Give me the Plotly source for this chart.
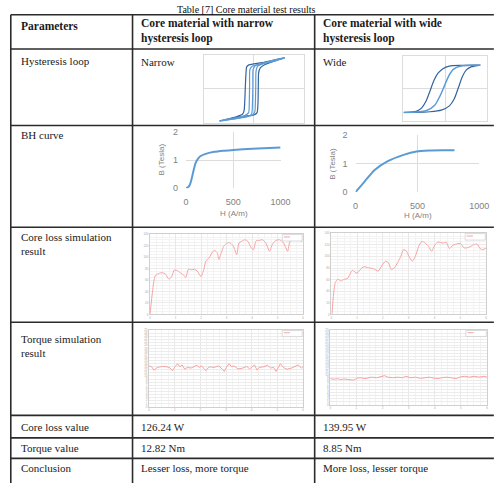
import plotly.graph_objects as go

W, H = 499, 483

# ---------------- data ----------------
title_text = "Table [7] Core material test results"
header_cells = ["Parameters", "Core material with narrow<br>hysteresis loop", "Core material with wide<br>hysteresis loop"]
row_labels = ["Hysteresis loop", "BH curve", "Core loss simulation<br>result", "Torque simulation<br>result",
              "Core loss value", "Torque value", "Conclusion"]
narrow_cells = ["Narrow", "126.24 W", "12.82 Nm", "Lesser loss, more torque"]
wide_cells = ["Wide", "139.95 W", "8.85 Nm", "More loss, lesser torque"]

# narrow hysteresis loop (normalised H, B)
nar_outer_h = [0.613, 0.387, 0.194, 0.0, -0.097, -0.142, -0.155, -0.168, -0.181, -0.194, -0.226, -0.323, -0.484, -0.677,
               -0.452, -0.194, 0.0, 0.065, 0.084, 0.090, 0.097, 0.129, 0.226, 0.419, 0.613]
nar_outer_b = [0.912, 0.843, 0.784, 0.735, 0.706, 0.647, 0.471, 0.078, -0.412, -0.657, -0.755, -0.814, -0.882, -0.951,
               -0.873, -0.814, -0.775, -0.706, -0.412, 0.078, 0.471, 0.618, 0.716, 0.824, 0.912]
nar_inner_h = [0.613, 0.323, 0.065, -0.032, -0.077, -0.084, -0.090, -0.103, -0.194, -0.677,
               -0.258, -0.032, 0.019, 0.032, 0.039, 0.045, 0.077, 0.323, 0.613]
nar_inner_b = [0.912, 0.784, 0.706, 0.667, 0.569, 0.078, -0.412, -0.706, -0.804, -0.951,
               -0.853, -0.784, -0.686, -0.412, 0.078, 0.520, 0.667, 0.794, 0.912]
nar_mid_h = [-0.677, -0.129, -0.045, -0.026, -0.019, -0.013, 0.032, 0.290, 0.613]
nar_mid_b = [-0.951, -0.824, -0.755, -0.412, 0.078, 0.569, 0.686, 0.804, 0.912]

# wide hysteresis loop
wid_outer_h = [0.840, 0.412, 0.101, -0.054, -0.171, -0.272, -0.366, -0.459, -0.560, -0.677, -0.833, -0.988,
               -0.677, -0.366, -0.093, 0.101, 0.218, 0.319, 0.412, 0.506, 0.630, 0.840]
wid_outer_b = [0.717, 0.707, 0.687, 0.606, 0.465, 0.232, -0.101, -0.404, -0.606, -0.707, -0.737, -0.747,
               -0.747, -0.727, -0.677, -0.545, -0.323, 0.030, 0.364, 0.566, 0.667, 0.717]
wid_mid_h = [-0.988, -0.677, -0.444, -0.249, -0.117, -0.016, 0.086, 0.195, 0.374, 0.840]
wid_mid_b = [-0.747, -0.737, -0.687, -0.525, -0.222, 0.081, 0.384, 0.586, 0.687, 0.717]

# BH curves
bh_nar_h = [0, 20, 40, 60, 80, 100, 125, 150, 200, 300, 400, 500, 700, 1000]
bh_nar_b = [0, 0.03, 0.12, 0.35, 0.65, 0.9, 1.05, 1.14, 1.22, 1.3, 1.34, 1.37, 1.41, 1.46]
bh_wid_h = [0, 73, 152, 257, 388, 493, 598, 700, 800]
bh_wid_b = [0, 0.37, 0.77, 1.08, 1.31, 1.43, 1.46, 1.47, 1.47]

# core loss simulations
cl_nar_t = [0, 0.10, 0.20, 0.36, 0.48, 0.61, 0.74, 0.86, 0.95, 1.05, 1.18, 1.31, 1.40, 1.50, 1.62, 1.75, 1.85, 2.00,
            2.11, 2.19, 2.32, 2.45, 2.54, 2.64, 2.70, 2.79, 2.89, 3.02, 3.15, 3.27, 3.40, 3.49, 3.59, 3.72, 3.84,
            3.97, 4.06, 4.16, 4.29, 4.41, 4.54, 4.69, 4.79, 4.92, 5.07, 5.24, 5.40, 5.49, 5.68, 5.81, 5.96]
cl_nar_v = [1.1, 41.3, 67.1, 71.7, 72.9, 70.0, 61.4, 67.1, 77.5, 76.9, 72.9, 68.9, 64.3, 78.6, 78.0, 78.6, 75.7, 66.0,
            78.6, 93.0, 98.7, 109.0, 111.3, 107.3, 95.8, 107.3, 118.8, 124.5, 124.5, 118.8, 104.4, 124.5, 127.4,
            130.3, 127.4, 115.9, 113.0, 128.5, 129.1, 130.3, 124.5, 110.2, 121.6, 128.5, 130.3, 124.5, 110.2, 127.4,
            130.3, 130.3, 127.4]
cl_wid_t = [0.03, 0.09, 0.16, 0.25, 0.38, 0.50, 0.63, 0.82, 1.00, 1.13, 1.26, 1.44, 1.63, 1.82, 1.95, 2.10, 2.22,
            2.32, 2.45, 2.57, 2.70, 2.80, 2.92, 3.01, 3.14, 3.26, 3.39, 3.51, 3.64, 3.77, 3.89, 4.02, 4.14, 4.33,
            4.46, 4.58, 4.71, 4.90, 5.02, 5.15, 5.33, 5.52, 5.65, 5.77, 5.87, 6.0]
cl_wid_v = [1.1, 35.1, 55.0, 60.6, 57.8, 60.6, 61.8, 76.0, 70.9, 77.7, 82.2, 80.5, 78.8, 74.8, 83.3, 91.8, 89.0,
            77.7, 80.5, 89.0, 100.3, 111.7, 108.8, 100.3, 91.8, 100.3, 117.3, 125.8, 123.0, 117.3, 108.8, 120.2,
            124.7, 123.0, 124.1, 113.4, 119.0, 121.9, 121.9, 114.5, 115.6, 120.2, 121.3, 113.4, 111.7, 114.5]

# torque simulations
tq_nar_t = [0, 0.10, 0.19, 0.32, 0.51, 0.69, 0.82, 0.91, 1.01, 1.11, 1.20, 1.29, 1.39, 1.49, 1.64, 1.77, 1.86, 1.96,
            2.05, 2.21, 2.34, 2.53, 2.72, 2.88, 2.93, 3.03, 3.12, 3.22, 3.31, 3.47, 3.66, 3.81, 3.92, 4.02, 4.11,
            4.21, 4.29, 4.48, 4.61, 4.74, 4.86, 4.95, 5.12, 5.24, 5.37, 5.56, 5.71, 5.81, 5.94, 6.0]
tq_nar_v = [13.3, 13.0, 11.9, 12.8, 13.1, 13.0, 12.6, 11.7, 13.0, 14.0, 13.0, 13.6, 12.2, 12.8, 12.6, 13.1, 13.5,
            12.8, 13.3, 11.7, 13.0, 12.8, 13.3, 12.0, 11.5, 13.0, 14.0, 13.0, 13.3, 12.3, 12.6, 13.1, 12.3, 13.0,
            13.6, 11.9, 12.8, 13.0, 13.5, 12.6, 12.8, 11.5, 14.0, 12.8, 12.2, 12.6, 13.1, 13.6, 12.6, 13.0]
tq_wid_t = [0, 0.15, 0.27, 0.40, 0.52, 0.71, 0.90, 1.02, 1.15, 1.33, 1.46, 1.58, 1.77, 1.95, 2.08, 2.20, 2.39, 2.58,
            2.76, 2.89, 3.07, 3.26, 3.45, 3.63, 3.80, 3.95, 4.13, 4.26, 4.45, 4.63, 4.82, 4.94, 5.13, 5.32, 5.50,
            5.69, 5.88, 6.0]
tq_wid_v = [8.7, 8.5, 8.7, 8.4, 8.6, 8.4, 8.2, 8.9, 9.0, 8.7, 8.9, 9.2, 9.0, 9.5, 9.7, 9.2, 9.0, 9.2, 9.0, 9.5, 9.0,
            9.2, 8.8, 9.0, 9.2, 8.9, 8.7, 9.0, 9.2, 9.0, 8.7, 9.2, 9.5, 9.2, 9.5, 9.2, 9.5, 9.2]

# ---------------- helpers ----------------
def px(x):
    return x / W

def py(y):
    return 1 - y / H

fig = go.Figure()
SERIF = "Liberation Serif"
BLUE_D = "#34649c"
BLUE_L = "#5b9bd5"
RED = "#f5a3a3"

def add(x, y, n, color, width=1.2, shape="spline"):
    fig.add_trace(go.Scatter(x=x, y=y, mode="lines", xaxis="x" + ("" if n == 1 else str(n)),
                             yaxis="y" + ("" if n == 1 else str(n)), showlegend=False, hoverinfo="skip",
                             line=dict(color=color, width=width, shape=shape, smoothing=0.6)))

# hysteresis
add(nar_outer_h, nar_outer_b, 1, BLUE_D)
add(nar_mid_h, nar_mid_b, 1, BLUE_L)
add(nar_inner_h, nar_inner_b, 1, BLUE_L)
add(wid_outer_h, wid_outer_b, 2, BLUE_D)
add(wid_mid_h, wid_mid_b, 2, BLUE_L, 1.5)
# BH
add(bh_nar_h, bh_nar_b, 3, BLUE_L, 2)
add(bh_wid_h, bh_wid_b, 4, BLUE_L, 2)
# simulations
add(cl_nar_t, cl_nar_v, 5, RED, 1, "spline")
add(cl_wid_t, cl_wid_v, 6, RED, 1, "spline")
add(tq_nar_t, tq_nar_v, 7, RED, 1, "linear")
add(tq_wid_t, tq_wid_v, 8, RED, 1, "linear")

layout = dict(width=W, height=H, autosize=False, margin=dict(l=0, r=0, t=0, b=0),
              paper_bgcolor="white", plot_bgcolor="white", showlegend=False)

def dom(x0, x1, y0, y1):
    return [px(x0), px(x1)], [py(y1), py(y0)]

def set_axes(n, xd, yd, xa, ya):
    k = "" if n == 1 else str(n)
    xa.update(domain=xd, anchor="y" + k)
    ya.update(domain=yd, anchor="x" + k)
    layout["xaxis" + k] = xa
    layout["yaxis" + k] = ya

GRID = "#dcdcdc"
def hyst_axis():
    return dict(range=[-1, 1], dtick=1, showgrid=True, gridcolor=GRID, showline=True, mirror=True,
                linecolor=GRID, zeroline=False, showticklabels=False, ticks="", fixedrange=True)

for n, box in [(1, (206, 309, 51, 120)), (2, (411, 497, 52, 118))]:
    xd, yd = dom(*box)
    set_axes(n, xd, yd, hyst_axis(), hyst_axis())

TICKF = dict(family="Liberation Sans", size=9, color="#7f7f7f")
for n, box, xr in [(3, (188, 285, 130, 187), [0, 1000]), (4, (362, 489, 133, 191), [0, 1000])]:
    xd, yd = dom(*box)
    xa = dict(range=xr, tickvals=[0, 500, 1000], showgrid=True, gridcolor=GRID, zeroline=False,
              showline=False, tickfont=TICKF, ticks="", ticklabelstandoff=7, fixedrange=True)
    ya = dict(range=[0, 2], tickvals=[0, 1, 2], showgrid=True, gridcolor=GRID, zeroline=False,
              showline=False, tickfont=TICKF, ticks="", ticklabelstandoff=7, fixedrange=True)
    set_axes(n, xd, yd, xa, ya)

SMALLF = dict(family="Liberation Sans", size=3, color="#a8a8a8")
def sim_axes(yr, ydt, yminor):
    xa = dict(range=[0, 6], dtick=1, showgrid=True, gridcolor="#e8e8e8", gridwidth=0.7,
              minor=dict(dtick=0.25, showgrid=True, gridcolor="#f3f3f3", gridwidth=0.5),
              showline=True, mirror=True, linecolor="#cfcfcf", zeroline=False, tickfont=SMALLF,
              ticks="", fixedrange=True)
    ya = dict(range=yr, dtick=ydt, showgrid=True, gridcolor="#ececec", gridwidth=0.6,
              showline=True, mirror=True, linecolor="#cfcfcf", zeroline=False, tickfont=SMALLF,
              ticks="", fixedrange=True)
    if yminor:
        ya["minor"] = dict(dtick=yminor, showgrid=True, gridcolor="#f3f3f3", gridwidth=0.5)
    return xa, ya

for n, box, yr, dt, mn in [(5, (151, 308, 234, 316), [0, 140], 20, 5),
                           (6, (337, 496, 233, 316), [0, 140], 20, 5),
                           (7, (150, 308, 332, 410), [0, 25], 1, None),
                           (8, (336, 497, 332, 408), [0, 25], 1, None)]:
    xd, yd = dom(*box)
    xa, ya = sim_axes(yr, dt, mn)
    set_axes(n, xd, yd, xa, ya)

fig.update_layout(**layout)

# ---------------- table lines ----------------
LINE = dict(color="#2b2b2b", width=1.6)
shapes = []
for xv in [8, 133, 320]:
    shapes.append(dict(type="line", xref="paper", yref="paper", x0=px(xv), x1=px(xv), y0=py(10), y1=py(483 + 5),
                       line=LINE))
for yv in [10, 45, 123, 227, 324, 419, 442, 463]:
    shapes.append(dict(type="line", xref="paper", yref="paper", x0=px(8), x1=px(499 + 5), y0=py(yv), y1=py(yv),
                       line=LINE))

# legend boxes of simulation charts
for n in [5, 6, 7, 8]:
    xr = "x%d domain" % n
    yr = "y%d domain" % n
    shapes.append(dict(type="rect", xref=xr, yref=yr, x0=0.865, x1=0.995, y0=0.915, y1=0.995,
                       line=dict(color="#c4c4c4", width=0.6), fillcolor="white"))
    shapes.append(dict(type="line", xref=xr, yref=yr, x0=0.875, x1=0.915, y0=0.965, y1=0.965,
                       line=dict(color=RED, width=1)))
fig.update_layout(shapes=shapes)

# ---------------- text ----------------
ann = []
def txt(x, y, s, size=11, bold=False, anchor="left", color="#1a1a1a", family=SERIF, angle=0, yanchor="middle"):
    if bold:
        s = "<b>" + s + "</b>"
    ann.append(dict(x=px(x), y=py(y), xref="paper", yref="paper", text=s, showarrow=False, xanchor=anchor,
                    yanchor=yanchor, align="left", textangle=angle, borderpad=0,
                    font=dict(family=family, size=size, color=color)))

# title (kept fully visible above the table)
txt(250, 4.5, title_text, size=10, anchor="center", color="#111")

txt(17, 21, header_cells[0], bold=True, size=11.5)
txt(141, 27, header_cells[1], bold=True, size=11.5)
txt(328, 27, header_cells[2], bold=True, size=11.5)

row_y = [57, 133, 244, 348, 431, 452, 473]
for lab, yv in zip(row_labels, row_y):
    txt(17, yv, lab)

txt(141, 58, narrow_cells[0])
txt(328, 58, wide_cells[0])
for i, yv in enumerate([431, 452, 473]):
    txt(141, yv, narrow_cells[i + 1])
    txt(328, yv, wide_cells[i + 1])

# BH axis titles
txt(163, 158, "B (Tesla)", size=8, anchor="center", color="#7f7f7f", family="Liberation Sans", angle=-90)
txt(338, 162, "B (Tesla)", size=8, anchor="center", color="#7f7f7f", family="Liberation Sans", angle=-90)
txt(237, 213, "H (A/m)", size=8, anchor="center", color="#7f7f7f", family="Liberation Sans")
txt(426, 215, "H (A/m)", size=8, anchor="center", color="#7f7f7f", family="Liberation Sans")

fig.update_layout(annotations=ann)

fig.write_html("out.html", config={"displayModeBar": False},
               post_script="document.body.style.margin='0';document.body.style.overflow='hidden';")
